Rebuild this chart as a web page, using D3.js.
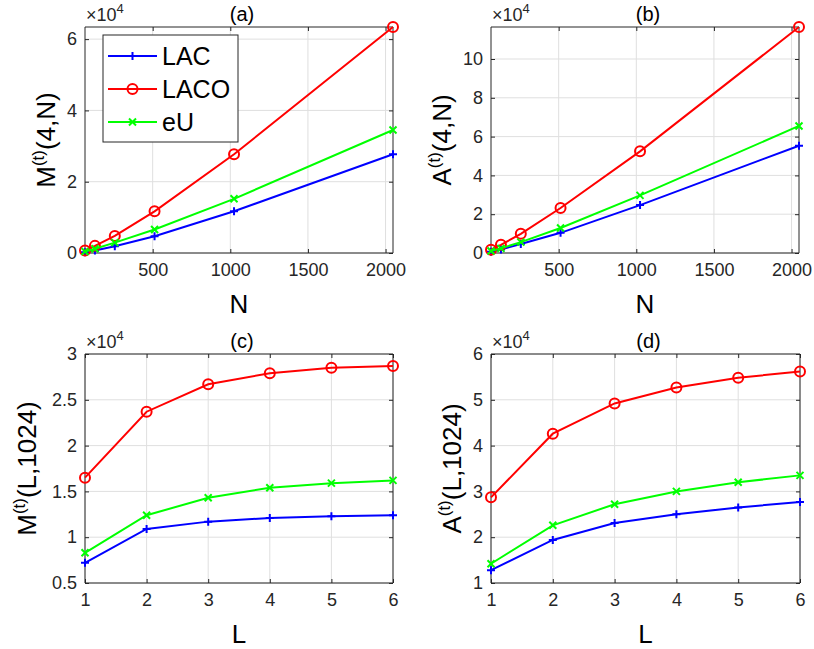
<!DOCTYPE html>
<html><head><meta charset="utf-8">
<script src="https://cdn.jsdelivr.net/npm/d3@7"></script>
<style>
html,body{margin:0;padding:0;background:#fff;}
text{font-family:"Liberation Sans",Arial,Helvetica,sans-serif;}
</style></head>
<body><svg id="chart" width="814" height="649"></svg>
<script>
// ---- data ----
const seriesNames = ["LAC", "LACO", "eU"];
const nValues = [64, 128, 256, 512, 1024, 2048];
const lValues = [1, 2, 3, 4, 5, 6];
// (a) M^(t)(4,N)
const mN_LAC  = [200, 700, 1900, 4700, 11700, 27700];
const mN_LACO = [700, 2000, 4800, 11700, 27700, 63400];
const mN_eU   = [400, 1200, 2900, 6600, 15200, 34500];
// (b) A^(t)(4,N)
const aN_LAC  = [600, 1800, 4600, 10400, 24700, 55300];
const aN_LACO = [1700, 4200, 9900, 23200, 52400, 116500];
const aN_eU   = [1000, 2400, 5600, 12900, 29700, 65500];
// (c) M^(t)(L,1024)
const mL_LAC  = [7200, 10900, 11700, 12100, 12300, 12400];
const mL_LACO = [16500, 23700, 26700, 27900, 28500, 28700];
const mL_eU   = [8300, 12400, 14300, 15400, 15900, 16200];
// (d) A^(t)(L,1024)
const aL_LAC  = [12800, 19400, 23100, 25000, 26500, 27700];
const aL_LACO = [28700, 42600, 49200, 52700, 54800, 56200];
const aL_eU   = [14200, 22600, 27200, 30000, 32000, 33500];
// tick values
const xTicksN = [500, 1000, 1500, 2000];
const xTicksL = [1, 2, 3, 4, 5, 6];
const yTicksA = [0, 20000, 40000, 60000];
const yTicksB = [0, 20000, 40000, 60000, 80000, 100000];
const yTicksC = [5000, 10000, 15000, 20000, 25000, 30000];
const yTicksD = [10000, 20000, 30000, 40000, 50000, 60000];

const colors = {LAC: "#0000ff", LACO: "#ff0000", eU: "#00ff00"};
const markers = {LAC: "plus", LACO: "circle", eU: "cross"};

const panels = [
  {id:"a", box:[85,393,27,253], x:nValues, xDom:[64,2048], xTicks:xTicksN, yDom:[0,63400], yTicks:yTicksA,
   series:[mN_LAC,mN_LACO,mN_eU], ylab:["M","(4,N)"], xlab:"N", legend:true},
  {id:"b", box:[491,799,27,253], x:nValues, xDom:[64,2048], xTicks:xTicksN, yDom:[0,116500], yTicks:yTicksB,
   series:[aN_LAC,aN_LACO,aN_eU], ylab:["A","(4,N)"], xlab:"N"},
  {id:"c", box:[85,393,354,583], x:lValues, xDom:[1,6], xTicks:xTicksL, yDom:[5000,30000], yTicks:yTicksC,
   series:[mL_LAC,mL_LACO,mL_eU], ylab:["M","(L,1024)"], xlab:"L"},
  {id:"d", box:[491,800,354,583], x:lValues, xDom:[1,6], xTicks:xTicksL, yDom:[10000,60000], yTicks:yTicksD,
   series:[aL_LAC,aL_LACO,aL_eU], ylab:["A","(L,1024)"], xlab:"L"}
];

const svg = d3.select("#chart");
const axisColor = "#262626";
const gridColor = "#dfdfdf";

function drawMarker(g, type, cx, cy, color){
  if(type==="circle"){
    g.append("circle").attr("cx",cx).attr("cy",cy).attr("r",5)
      .attr("fill","none").attr("stroke",color).attr("stroke-width",2);
  } else if(type==="plus"){
    g.append("path").attr("d",`M${cx-4},${cy}H${cx+4}M${cx},${cy-4}V${cy+4}`)
      .attr("stroke",color).attr("stroke-width",2).attr("fill","none");
  } else {
    g.append("path").attr("d",`M${cx-3.5},${cy-3.5}L${cx+3.5},${cy+3.5}M${cx-3.5},${cy+3.5}L${cx+3.5},${cy-3.5}`)
      .attr("stroke",color).attr("stroke-width",2).attr("fill","none");
  }
}

function yFmt(v){ const s = v/10000; return (Math.round(s*10)/10).toString(); }

panels.forEach(p => {
  const [x0,x1,y0,y1] = p.box;
  const x = d3.scaleLinear().domain(p.xDom).range([x0,x1]);
  const y = d3.scaleLinear().domain(p.yDom).range([y1,y0]);
  const g = svg.append("g");

  // grid
  g.selectAll(".gx").data(p.xTicks).enter().append("line")
    .attr("x1",d=>x(d)).attr("x2",d=>x(d)).attr("y1",y0).attr("y2",y1)
    .attr("stroke",gridColor).attr("stroke-width",1);
  g.selectAll(".gy").data(p.yTicks).enter().append("line")
    .attr("x1",x0).attr("x2",x1).attr("y1",d=>y(d)).attr("y2",d=>y(d))
    .attr("stroke",gridColor).attr("stroke-width",1);

  // axes
  const fontTick = "18px";
  const ax = g.append("g").attr("transform",`translate(0,${y1})`)
    .call(d3.axisBottom(x).tickValues(p.xTicks).tickSize(-4).tickPadding(10).tickFormat(d3.format("d")));
  const axT = g.append("g").attr("transform",`translate(0,${y0})`)
    .call(d3.axisTop(x).tickValues(p.xTicks).tickSize(-4).tickFormat(""));
  const ay = g.append("g").attr("transform",`translate(${x0},0)`)
    .call(d3.axisLeft(y).tickValues(p.yTicks).tickSize(-4).tickPadding(8).tickFormat(yFmt));
  const ayR = g.append("g").attr("transform",`translate(${x1},0)`)
    .call(d3.axisRight(y).tickValues(p.yTicks).tickSize(-4).tickFormat(""));
  [ax,axT,ay,ayR].forEach(a=>{
    a.select(".domain").attr("stroke",axisColor).attr("stroke-width",1)
      .attr("d", a===ax||a===axT ? `M${x0},0H${x1}` : `M0,${y0}V${y1}`);
    a.selectAll(".tick line").attr("stroke",axisColor);
    a.selectAll(".tick text").attr("fill",axisColor).style("font-size",fontTick)
      .style("font-family",'"Liberation Sans",Arial,sans-serif');
  });

  // lines and markers
  p.series.forEach((vals,i) => {
    const name = seriesNames[i];
    const pts = p.x.map((xv,j)=>[xv, vals[j]]);
    g.append("path").datum(pts)
      .attr("d", d3.line().x(d=>x(d[0])).y(d=>y(d[1])))
      .attr("fill","none").attr("stroke",colors[name]).attr("stroke-width",2);
    pts.forEach(d => drawMarker(g, markers[name], x(d[0]), y(d[1]), colors[name]));
  });

  // title
  const cxm = (x0+x1)/2;
  g.append("text").attr("x",cxm+3).attr("y",y0-6).attr("text-anchor","middle")
    .style("font-size","20px").attr("fill","#000").text(`(${p.id})`);
  // exponent
  const ex = g.append("text").attr("x",x0+1).attr("y",y0-6).style("font-size","18px").attr("fill",axisColor);
  ex.append("tspan").text("\u00d710");
  ex.append("tspan").attr("dy",-8).style("font-size","13px").text("4");

  // x label
  g.append("text").attr("x",cxm).attr("y",y1+60).attr("text-anchor","middle")
    .style("font-size","26px").attr("fill","#000").text(p.xlab);

  // y label
  const maxLabW = d3.max(p.yTicks.map(yFmt), s=>s.length);
  const lx = x0 - 21 - maxLabW*9.5;
  const yl = g.append("text").attr("transform",`translate(${lx},${(y0+y1)/2}) rotate(-90)`)
    .attr("text-anchor","middle").style("font-size","26px").attr("fill","#000");
  yl.append("tspan").text(p.ylab[0]);
  yl.append("tspan").attr("dy",-11).style("font-size","17px").text("(t)");
  yl.append("tspan").attr("dy",11).text(p.ylab[1]);

  // legend
  if(p.legend){
    const lg = g.append("g");
    lg.append("rect").attr("x",103).attr("y",35).attr("width",135).attr("height",107)
      .attr("fill","#fff").attr("stroke",axisColor).attr("stroke-width",1);
    const rows = [56, 89, 122];
    seriesNames.forEach((name,i)=>{
      const ry = rows[i];
      lg.append("line").attr("x1",108).attr("x2",157).attr("y1",ry).attr("y2",ry)
        .attr("stroke",colors[name]).attr("stroke-width",2);
      drawMarker(lg, markers[name], 132.5, ry, colors[name]);
      lg.append("text").attr("x",162).attr("y",ry+9).style("font-size","25px").attr("fill","#000").text(name);
    });
  }
});
</script></body></html>
